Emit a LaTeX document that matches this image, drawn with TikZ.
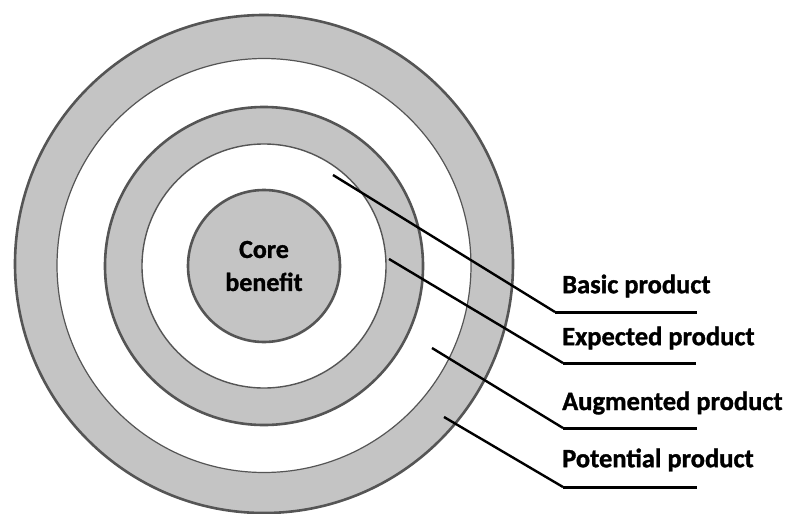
\documentclass[tikz,border=0pt]{standalone}
\usepackage{fontspec}
\setmainfont{Carlito}[BoldFeatures={FakeBold=1.2}]
\definecolor{ringgray}{HTML}{C4C4C4}
\definecolor{edgegray}{HTML}{555555}
\begin{document}
\begin{tikzpicture}[x=1pt,y=-1pt,
  ring/.style={circle,inner sep=0pt,draw=edgegray,fill=ringgray},
  gap/.style={circle,inner sep=0pt,draw=edgegray,fill=white},
  label/.style={anchor=west,inner sep=0pt,font=\fontsize{26.5}{30}\selectfont\bfseries},
  leader/.style={draw=black,line width=2.4pt,line join=round},
  underline/.style={draw=black,line width=3pt}]
\useasboundingbox (0,0) rectangle (790,514);
\node[ring,line width=2.6pt,minimum size=498pt] (outer) at (264,264) {};
\node[gap,line width=1.2pt,minimum size=414pt] (aug) at (264,265.5) {};
\node[ring,line width=2.6pt,minimum size=318pt] (exp) at (264,266) {};
\node[gap,line width=1.4pt,minimum size=244pt] (basic) at (264,266) {};
\node[ring,line width=2.6pt,minimum size=152pt,align=center,
  font=\fontsize{26}{33}\selectfont\bfseries] (core) at (264,266) {Core\\benef{}it};
% labels
\node[label] (lb) at (562,286) {Basic product};
\node[label] (le) at (562,338) {Expected product};
\node[label] (la) at (562,403) {Augmented product};
\node[label] (lp) at (562,460) {Potential product};
% leader coordinates
\coordinate (b1) at (333,175); \coordinate (b2) at (555,312); \coordinate (b3) at (697,312);
\coordinate (e1) at (389,259); \coordinate (e2) at (563,363); \coordinate (e3) at (696,363);
\coordinate (a1) at (432,348); \coordinate (a2) at (563,428); \coordinate (a3) at (697,428);
\coordinate (p1) at (444,417); \coordinate (p2) at (563,487); \coordinate (p3) at (697,487);
\path[leader] (b1) -- (b2);
\path[underline] (b2) -- (b3);
\path[leader] (e1) -- (e2);
\path[underline] (e2) -- (e3);
\path[leader] (a1) -- (a2);
\path[underline] (a2) -- (a3);
\path[leader] (p1) -- (p2);
\path[underline] (p2) -- (p3);
\end{tikzpicture}
\end{document}
